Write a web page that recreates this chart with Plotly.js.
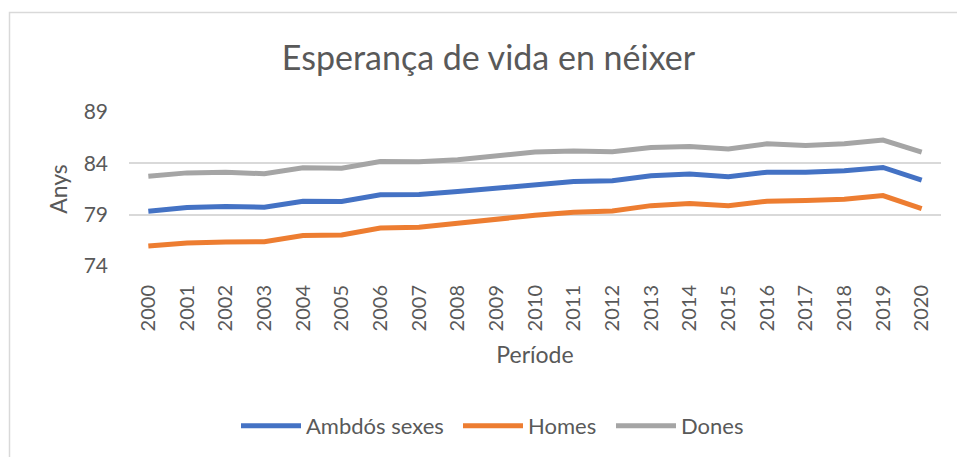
<!DOCTYPE html>
<html>
<head>
<meta charset="utf-8">
<script src="https://cdn.plot.ly/plotly-3.0.1.min.js"></script>
<style>html,body{margin:0;padding:0;background:#fff;}#chart{width:957px;height:457px;}</style>
</head>
<body>
<div id="chart"></div>
<script>
const years = ["2000","2001","2002","2003","2004","2005","2006","2007","2008","2009","2010","2011","2012","2013","2014","2015","2016","2017","2018","2019","2020"];
const ambdos = [79.33,79.69,79.79,79.72,80.31,80.28,80.93,80.96,81.25,81.60,81.94,82.23,82.30,82.78,82.95,82.69,83.14,83.14,83.27,83.60,82.36];
const homes  = [75.95,76.24,76.34,76.37,76.96,77.02,77.70,77.77,78.16,78.58,78.94,79.23,79.36,79.88,80.08,79.88,80.31,80.37,80.50,80.86,79.60];
const dones  = [82.75,83.07,83.14,82.98,83.56,83.53,84.18,84.15,84.34,84.73,85.10,85.19,85.13,85.55,85.65,85.39,85.90,85.74,85.90,86.27,85.10];
const yTicks = [74,79,84,89];

const FONT = "Lato, 'Open Sans', sans-serif";
const TXT = "#595959";

const mk = (name, y, color, lg) => ({
  type: "scatter", mode: "lines", name: name, x: years, y: y,
  line: {color: color, width: 5}, legend: lg
});

const data = [
  mk("Ambdós sexes", ambdos, "#4472C4", "legend"),
  mk("Homes", homes, "#ED7D31", "legend2"),
  mk("Dones", dones, "#A5A5A5", "legend3")
];

const L = 129, R = 941, T = 112, B = 266;
const pw = R - L, ph = B - T;

const lg = (px) => ({
  orientation: "h",
  xref: "container", yref: "container",
  x: px / 957, xanchor: "left",
  y: 1 - 426 / 457, yanchor: "middle",
  font: {family: FONT, size: 22, color: TXT},
  itemwidth: 60,
  borderwidth: 0,
  bgcolor: "rgba(0,0,0,0)"
});

const layout = {
  width: 957, height: 457,
  margin: {l: L, r: 957 - R, t: T, b: 457 - B},
  paper_bgcolor: "#fff", plot_bgcolor: "#fff",
  font: {family: FONT, color: TXT, size: 20},
  showlegend: true,
  title: {
    text: "Esperança de vida en néixer",
    font: {family: FONT, size: 34, color: TXT, weight: 400},
    x: 488.5 / 957, xanchor: "center", xref: "container",
    y: 1 - 58 / 457, yanchor: "middle", yref: "container"
  },
  xaxis: {
    type: "category",
    range: [-0.5, years.length - 0.5],
    tickangle: -90,
    tickfont: {family: FONT, size: 20, color: TXT},
    ticks: "", showgrid: false, zeroline: false,
    showline: false,
    ticklabelstandoff: 14,
    automargin: false,
    fixedrange: true,
    title: {text: "Període", font: {family: FONT, size: 23, color: TXT}, standoff: 16}
  },
  yaxis: {
    range: [74, 89],
    tickvals: yTicks,
    ticktext: yTicks.map(String),
    tickfont: {family: FONT, size: 21, color: TXT},
    ticks: "", showline: false, zeroline: false,
    gridcolor: "#D9D9D9", gridwidth: 2,
    ticklabelstandoff: 20,
    automargin: false,
    fixedrange: true,
    title: {text: "Anys", font: {family: FONT, size: 23, color: TXT}, standoff: 9}
  },
  legend: lg(236),
  legend2: lg(458),
  legend3: lg(611),
  shapes: [{
    type: "rect", xref: "paper", yref: "paper", layer: "below",
    x0: (9.5 - L) / pw, x1: (975 - L) / pw,
    y0: (B - 475) / ph, y1: (B - 12.5) / ph,
    line: {color: "#D9D9D9", width: 1.5}, fillcolor: "rgba(0,0,0,0)"
  }]
};

Plotly.newPlot("chart", data, layout, {displayModeBar: false, staticPlot: true});
</script>
</body>
</html>
